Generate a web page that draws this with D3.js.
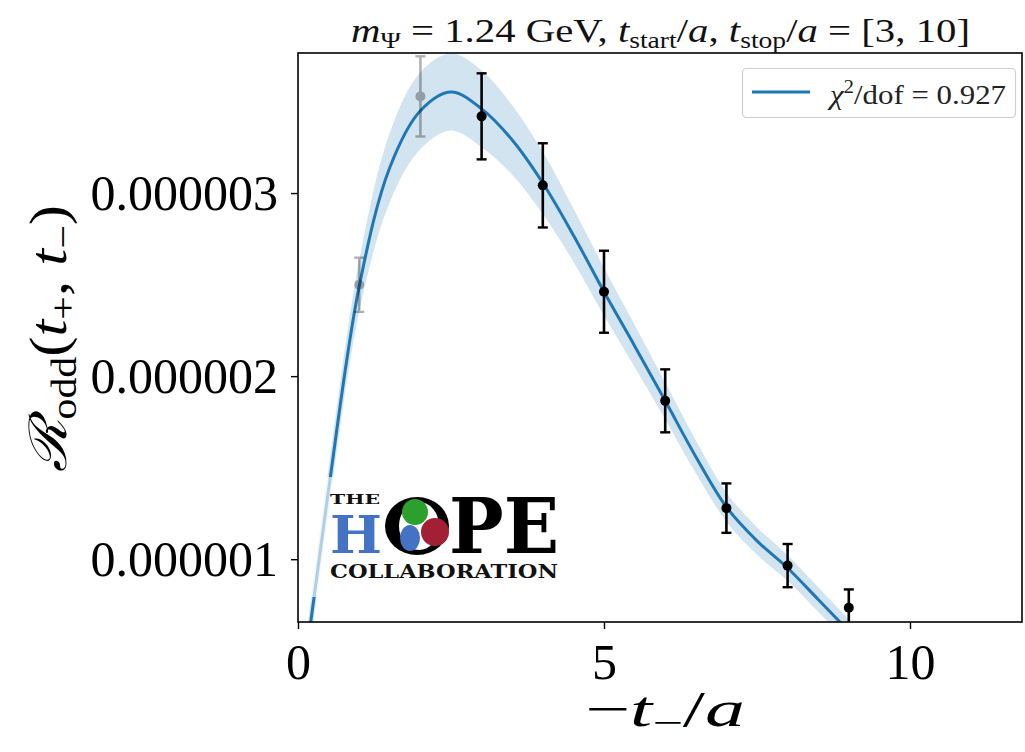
<!DOCTYPE html>
<html><head><meta charset="utf-8">
<script src="https://cdn.jsdelivr.net/npm/d3@7"></script>
<style>body{margin:0;background:#fff} svg{display:block}</style>
</head><body><svg id="c" width="1025" height="752"></svg>
<script>
// ---- data ----
const tPoints   = [1, 2, 3, 4, 5, 6, 7, 8, 9];
const rValues   = [2.499e-6, 3.528e-6, 3.419e-6, 3.042e-6, 2.461e-6, 1.865e-6, 1.279e-6, 0.965e-6, 0.735e-6];
const rErrors   = [0.148e-6, 0.219e-6, 0.235e-6, 0.230e-6, 0.224e-6, 0.172e-6, 0.135e-6, 0.118e-6, 0.100e-6];
const inFit     = [false, false, true, true, true, true, true, true, true];
const fitT      = [0.10, 0.208, 0.5, 1.0, 1.5, 2.0, 2.5, 3.0, 3.5, 4.0, 4.5, 5.0, 5.5, 6.0, 6.5, 7.0, 7.5, 8.0, 8.5, 8.856, 9.2];
const fitValue  = [0.38e-6, 0.657e-6, 1.38e-6, 2.49e-6, 3.14e-6, 3.45e-6, 3.552e-6, 3.46e-6, 3.29e-6, 3.055e-6, 2.77e-6, 2.461e-6, 2.165e-6, 1.865e-6, 1.56e-6, 1.285e-6, 1.10e-6, 0.952e-6, 0.78e-6, 0.657e-6, 0.54e-6];
const fitErr    = [0.10e-6, 0.11e-6, 0.12e-6, 0.14e-6, 0.19e-6, 0.21e-6, 0.21e-6, 0.21e-6, 0.19e-6, 0.17e-6, 0.145e-6, 0.13e-6, 0.115e-6, 0.10e-6, 0.09e-6, 0.08e-6, 0.075e-6, 0.07e-6, 0.067e-6, 0.065e-6, 0.063e-6];
const xTicks    = [0, 5, 10];
const xTickLabels = ["0", "5", "10"];
const yTicks    = [1e-6, 2e-6, 3e-6];
const yTickLabels = ["0.000001", "0.000002", "0.000003"];
const legendLabel = "0.927";

// ---- layout ----
const L = 298, R = 1022, T = 53, B = 622;
const serif = "'Liberation Serif', 'DejaVu Serif', serif";
const blue = "#1f77b4";
const svg = d3.select("#c");
const x = d3.scaleLinear().domain([0, 11.83]).range([L, R]);
const y = d3.scaleLinear().domain([0.657e-6, 3.765e-6]).range([B, T]);

svg.append("defs").append("clipPath").attr("id", "clip")
  .append("rect").attr("x", L).attr("y", T).attr("width", R - L).attr("height", B - T);

const plot = svg.append("g").attr("clip-path", "url(#clip)");

// band
const fit = fitT.map((t, i) => ({t, v: fitValue[i], e: fitErr[i]}));
const cv = d3.curveCatmullRom.alpha(0.5);
plot.append("path").datum(fit)
  .attr("d", d3.area().x(d => x(d.t)).y0(d => y(d.v - d.e)).y1(d => y(d.v + d.e)).curve(cv))
  .attr("fill", blue).attr("fill-opacity", 0.2);
plot.append("path").datum(fit)
  .attr("d", d3.line().x(d => x(d.t)).y(d => y(d.v)).curve(cv))
  .attr("fill", "none").attr("stroke", blue).attr("stroke-width", 3);

// data points
const pts = tPoints.map((t, i) => ({t, v: rValues[i], e: rErrors[i], f: inFit[i]}));
const pg = plot.selectAll("g.pt").data(pts).join("g")
  .attr("opacity", d => d.f ? 1 : 0.3);
pg.append("line").attr("x1", d => x(d.t)).attr("x2", d => x(d.t))
  .attr("y1", d => y(d.v - d.e)).attr("y2", d => y(d.v + d.e))
  .attr("stroke", "#000").attr("stroke-width", 2.6);
pg.append("line").attr("x1", d => x(d.t) - 5).attr("x2", d => x(d.t) + 5)
  .attr("y1", d => y(d.v - d.e)).attr("y2", d => y(d.v - d.e))
  .attr("stroke", "#000").attr("stroke-width", 2.4);
pg.append("line").attr("x1", d => x(d.t) - 5).attr("x2", d => x(d.t) + 5)
  .attr("y1", d => y(d.v + d.e)).attr("y2", d => y(d.v + d.e))
  .attr("stroke", "#000").attr("stroke-width", 2.4);
pg.append("circle").attr("cx", d => x(d.t)).attr("cy", d => y(d.v)).attr("r", 5).attr("fill", "#000");

// logo veil + logo
svg.append("rect").attr("x", 303).attr("y", 477).attr("width", 262).attr("height", 120)
  .attr("fill", "#fff").attr("fill-opacity", 0.65);
const logo = svg.append("g").attr("font-family", "'DejaVu Serif', serif").attr("font-weight", "bold");
logo.append("text").attr("x", 330).attr("y", 504).attr("font-size", 12).attr("textLength", 50)
  .attr("lengthAdjust", "spacingAndGlyphs").attr("fill", "#111").text("THE");
logo.append("text").attr("x", 330).attr("y", 553).attr("font-size", 52).attr("textLength", 52)
  .attr("lengthAdjust", "spacingAndGlyphs").attr("fill", "#4472c4").text("H");
logo.append("ellipse").attr("cx", 417).attr("cy", 526).attr("rx", 32).attr("ry", 29).attr("fill", "#000");
logo.append("ellipse").attr("cx", 419).attr("cy", 526).attr("rx", 20).attr("ry", 24).attr("fill", "#fff");
logo.append("ellipse").attr("cx", 410).attr("cy", 538).attr("rx", 10).attr("ry", 13).attr("fill", "#4472c4");
logo.append("circle").attr("cx", 415).attr("cy", 512).attr("r", 13).attr("fill", "#2ca02c");
logo.append("circle").attr("cx", 435).attr("cy", 532).attr("r", 14).attr("fill", "#a31f34");
logo.append("text").attr("x", 449).attr("y", 553).attr("font-size", 76).attr("textLength", 110)
  .attr("lengthAdjust", "spacingAndGlyphs").attr("fill", "#000").text("PE");
logo.append("text").attr("x", 330).attr("y", 578).attr("font-size", 19).attr("textLength", 228)
  .attr("lengthAdjust", "spacingAndGlyphs").attr("fill", "#111").text("COLLABORATION");

// axes
const xa = svg.append("g").attr("transform", `translate(0,${B})`)
  .call(d3.axisBottom(x).tickValues(xTicks).tickSize(7).tickPadding(14).tickFormat((d, i) => xTickLabels[i]));
const ya = svg.append("g").attr("transform", `translate(${L},0)`)
  .call(d3.axisLeft(y).tickValues(yTicks).tickSize(7).tickPadding(13).tickFormat((d, i) => yTickLabels[i]));
[xa, ya].forEach(a => {
  a.select(".domain").remove();
  a.selectAll(".tick line").attr("stroke", "#000").attr("stroke-width", 1.4);
  a.selectAll(".tick text").attr("font-family", serif).attr("font-size", 50).attr("fill", "#000");
});
svg.append("rect").attr("x", L).attr("y", T).attr("width", R - L).attr("height", B - T)
  .attr("fill", "none").attr("stroke", "#000").attr("stroke-width", 1.6);

// legend
const lg = svg.append("g");
lg.append("rect").attr("x", 742.5).attr("y", 68.5).attr("width", 273).attr("height", 49).attr("rx", 4)
  .attr("fill", "#fff").attr("fill-opacity", 0.8).attr("stroke", "#d0d0d0").attr("stroke-width", 1.2);
lg.append("line").attr("x1", 752).attr("x2", 810).attr("y1", 92).attr("y2", 92)
  .attr("stroke", blue).attr("stroke-width", 3);
const lt = lg.append("text").attr("x", 830).attr("y", 104).attr("font-family", serif).attr("font-size", 28).attr("fill", "#222")
  .attr("textLength", 176).attr("lengthAdjust", "spacingAndGlyphs");
lt.append("tspan").attr("font-style", "italic").text("χ");
lt.append("tspan").attr("font-size", 19).attr("dy", -11).text("2");
lt.append("tspan").attr("dy", 11).text("/dof = " + legendLabel);

// title
const tt = svg.append("text").attr("x", 351).attr("y", 42).attr("font-family", serif).attr("font-size", 34).attr("fill", "#111")
  .attr("textLength", 619).attr("lengthAdjust", "spacingAndGlyphs");
tt.append("tspan").attr("font-style", "italic").text("m");
tt.append("tspan").attr("font-size", 23).attr("dy", 6).text("Ψ");
tt.append("tspan").attr("dy", -6).text(" = 1.24 GeV, ");
tt.append("tspan").attr("font-style", "italic").text("t");
tt.append("tspan").attr("font-size", 23).attr("dy", 6).text("start");
tt.append("tspan").attr("dy", -6).text("/");
tt.append("tspan").attr("font-style", "italic").text("a");
tt.append("tspan").text(", ");
tt.append("tspan").attr("font-style", "italic").text("t");
tt.append("tspan").attr("font-size", 23).attr("dy", 6).text("stop");
tt.append("tspan").attr("dy", -6).text("/");
tt.append("tspan").attr("font-style", "italic").text("a");
tt.append("tspan").text(" = [3, 10]");

// x label
const xl = svg.append("text").attr("x", 585).attr("y", 726).attr("font-family", serif).attr("font-size", 50).attr("fill", "#000")
  .attr("textLength", 160).attr("lengthAdjust", "spacingAndGlyphs");
xl.append("tspan").text("−");
xl.append("tspan").attr("font-style", "italic").text("t");
xl.append("tspan").attr("font-size", 34).attr("dy", 8).text("−");
xl.append("tspan").attr("dy", -8).text("/");
xl.append("tspan").attr("font-style", "italic").text("a");

// y label
const yl = svg.append("text").attr("transform", "translate(66,472) rotate(-90)")
  .attr("font-family", serif).attr("font-size", 52).attr("fill", "#000")
  .attr("textLength", 267).attr("lengthAdjust", "spacingAndGlyphs");
yl.append("tspan").attr("font-style", "italic").text("ℛ");
yl.append("tspan").attr("font-size", 36).attr("dy", 10).text("odd");
yl.append("tspan").attr("dy", -10).text("(");
yl.append("tspan").attr("font-style", "italic").text("t");
yl.append("tspan").attr("font-size", 36).attr("dy", 9).text("+");
yl.append("tspan").attr("dy", -9).text(", ");
yl.append("tspan").attr("font-style", "italic").text("t");
yl.append("tspan").attr("font-size", 36).attr("dy", 9).text("−");
yl.append("tspan").attr("dy", -9).text(")");
</script></body></html>
